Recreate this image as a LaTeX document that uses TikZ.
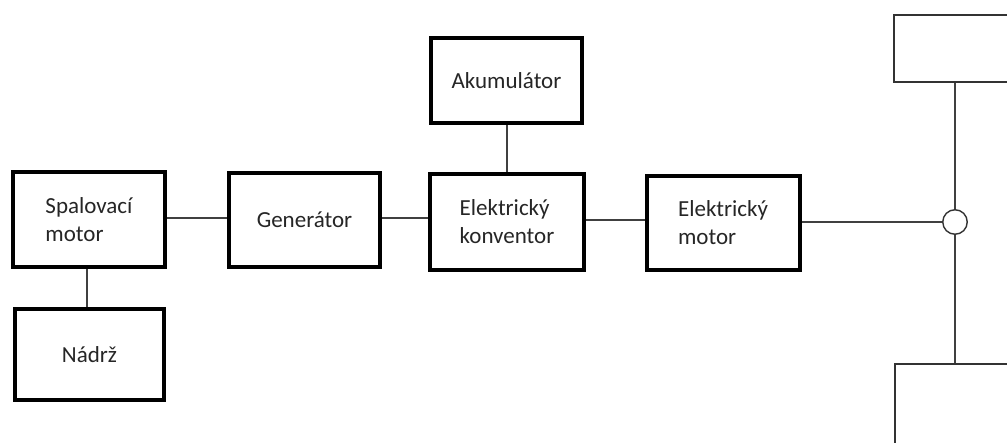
\documentclass[tikz,border=0pt]{standalone}
\usepackage{fontspec}
\setmainfont{Carlito}
\begin{document}
\begin{tikzpicture}[x=1pt,y=-1pt,
  box/.style={draw=black, line width=4pt, inner sep=0pt, align=left,
    font=\fontsize{23}{28}\selectfont, text=black!85},
  thinbox/.style={draw=black!80, line width=1.6pt, inner sep=0pt},
  wire/.style={draw=black!75, line width=1.4pt}]
\useasboundingbox[fill=white] (0,0) rectangle (1007,443);
\node[box, minimum width=152pt, minimum height=95pt] (spal) at (89,219.5) {Spalovací\\motor};
\node[box, minimum width=149pt, minimum height=91pt] (nadrz) at (89.5,354.5) {Nádrž};
\node[box, minimum width=151pt, minimum height=94pt] (gen) at (304.5,220) {Generátor};
\node[box, minimum width=151pt, minimum height=85pt] (aku) at (506.5,80.5) {Akumulátor};
\node[box, minimum width=154pt, minimum height=96pt] (konv) at (507,222) {Elektrický\\konventor};
\node[box, minimum width=153pt, minimum height=94pt] (mot) at (723,223) {Elektrický\\motor};
\node[draw=black!80, line width=1.4pt, circle, minimum size=24.5pt, inner sep=0pt] (hub) at (955,222) {};
\node[thinbox, anchor=north west, minimum width=130pt, minimum height=67pt] (top) at (893,14) {};
\node[thinbox, anchor=north west, minimum width=130pt, minimum height=100pt] (bot) at (894,363) {};
\draw[wire] (spal.south -| 87,0) -- (nadrz.north -| 87,0);
\draw[wire] (spal.east |- 0,218) -- (gen.west |- 0,218);
\draw[wire] (gen.east |- 0,218) -- (konv.west |- 0,218);
\draw[wire] (aku.south -| 507,0) -- (konv.north -| 507,0);
\draw[wire] (konv.east |- 0,220) -- (mot.west |- 0,220);
\draw[wire] (mot.east |- 0,222) -- (hub.west);
\draw[wire] (top.south -| hub.north) -- (hub.north);
\draw[wire] (hub.south) -- (bot.north -| hub.south);
\end{tikzpicture}
\end{document}
